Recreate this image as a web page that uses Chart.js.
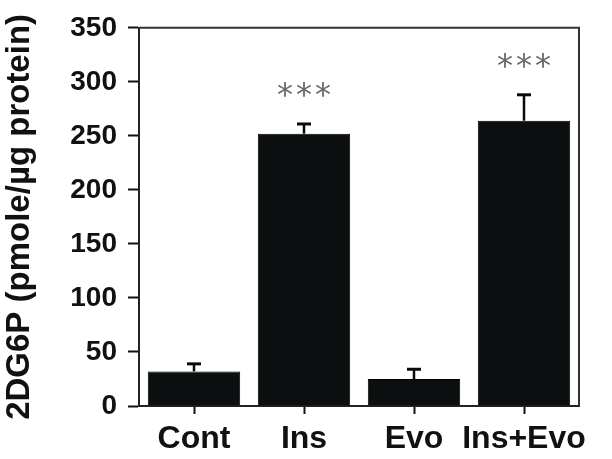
<!DOCTYPE html>
<html>
<head>
<meta charset="utf-8">
<script src="https://cdn.jsdelivr.net/npm/chart.js@4.4.1/dist/chart.umd.min.js"></script>
<style>
  html, body { margin: 0; padding: 0; background: #fff; }
  #wrap { width: 612px; height: 459px; }
</style>
</head>
<body>
<div id="wrap"><canvas id="grafico"></canvas></div>
<script>
var categorias = ["Cont", "Ins", "Evo", "Ins+Evo"];
var medias = [32, 252, 25, 264];
var erros = [7, 9, 9, 24];
var significancia = ["", "***", "", "***"];
var yMin = 0, yMax = 350, yPasso = 50;

// desenha a barra de erro (só a parte de cima) e os asteriscos
var pluginErros = {
    id: "erros",
    afterDatasetsDraw: function (chart) {
        var ctx = chart.ctx;
        var y = chart.scales.y;
        var meta = chart.getDatasetMeta(0);
        ctx.save();
        meta.data.forEach(function (barra, i) {
            var topo = y.getPixelForValue(medias[i] + erros[i]);
            ctx.strokeStyle = "#0a0a0a";
            ctx.lineWidth = 2.5;
            ctx.beginPath();
            ctx.moveTo(barra.x, barra.y);
            ctx.lineTo(barra.x, topo);
            ctx.stroke();
            ctx.lineWidth = 3;
            ctx.beginPath();
            ctx.moveTo(barra.x - 7, topo);
            ctx.lineTo(barra.x + 7, topo);
            ctx.stroke();

            if (significancia[i]) {
                ctx.fillStyle = "#6a6a6a";
                ctx.font = "32px 'DejaVu Sans'";
                ctx.textAlign = "center";
                ctx.textBaseline = "middle";
                var n = significancia[i].length;
                for (var k = 0; k < n; k++) {
                    ctx.fillText("*", barra.x + (k - (n - 1) / 2) * 19, topo - 27);
                }
            }
        });
        ctx.restore();
    },
    afterDraw: function (chart) {
        // moldura de cima e da direita
        var a = chart.chartArea;
        var ctx = chart.ctx;
        ctx.save();
        ctx.strokeStyle = "#333";
        ctx.lineWidth = 2;
        ctx.beginPath();
        ctx.moveTo(a.left, a.top);
        ctx.lineTo(a.right, a.top);
        ctx.lineTo(a.right, a.bottom);
        ctx.stroke();
        ctx.restore();
    }
};

new Chart(document.getElementById("grafico"), {
    type: "bar",
    data: {
        labels: categorias,
        datasets: [{
            data: medias,
            backgroundColor: "#0c0f0f",
            borderColor: "#000",
            borderWidth: 1,
            categoryPercentage: 1,
            barPercentage: 0.84
        }]
    },
    options: {
        responsive: true,
        maintainAspectRatio: false,
        animation: false,
        layout: { padding: { left: 0, top: 23, right: 33, bottom: 0 } },
        plugins: {
            legend: { display: false },
            tooltip: { enabled: false }
        },
        scales: {
            x: {
                grid: { offset: false, drawOnChartArea: false, drawTicks: true, tickLength: 8, tickColor: "#111", tickWidth: 2 },
                border: { color: "#222", width: 2 },
                ticks: {
                    color: "#111",
                    font: { family: "Liberation Sans", size: 32, weight: "bold" },
                    padding: 6,
                    maxRotation: 0,
                    minRotation: 0,
                    autoSkip: false
                },
                afterFit: function (s) { s.height = 53; }
            },
            y: {
                min: yMin,
                max: yMax,
                grid: { drawOnChartArea: false, drawTicks: true, tickLength: 11, tickColor: "#111", tickWidth: 2 },
                border: { color: "#222", width: 2 },
                ticks: { stepSize: yPasso, color: "#111", font: { family: "Liberation Sans", size: 28, weight: "bold" }, padding: 11 },
                title: {
                    display: true,
                    text: "2DG6P (pmole/µg protein)",
                    color: "#111",
                    font: { family: "Liberation Sans", size: 33, weight: "bold" },
                    padding: { top: 0, bottom: 0 }
                },
                afterFit: function (s) { s.width = 139; }
            }
        }
    },
    plugins: [pluginErros]
});
</script>
</body>
</html>
